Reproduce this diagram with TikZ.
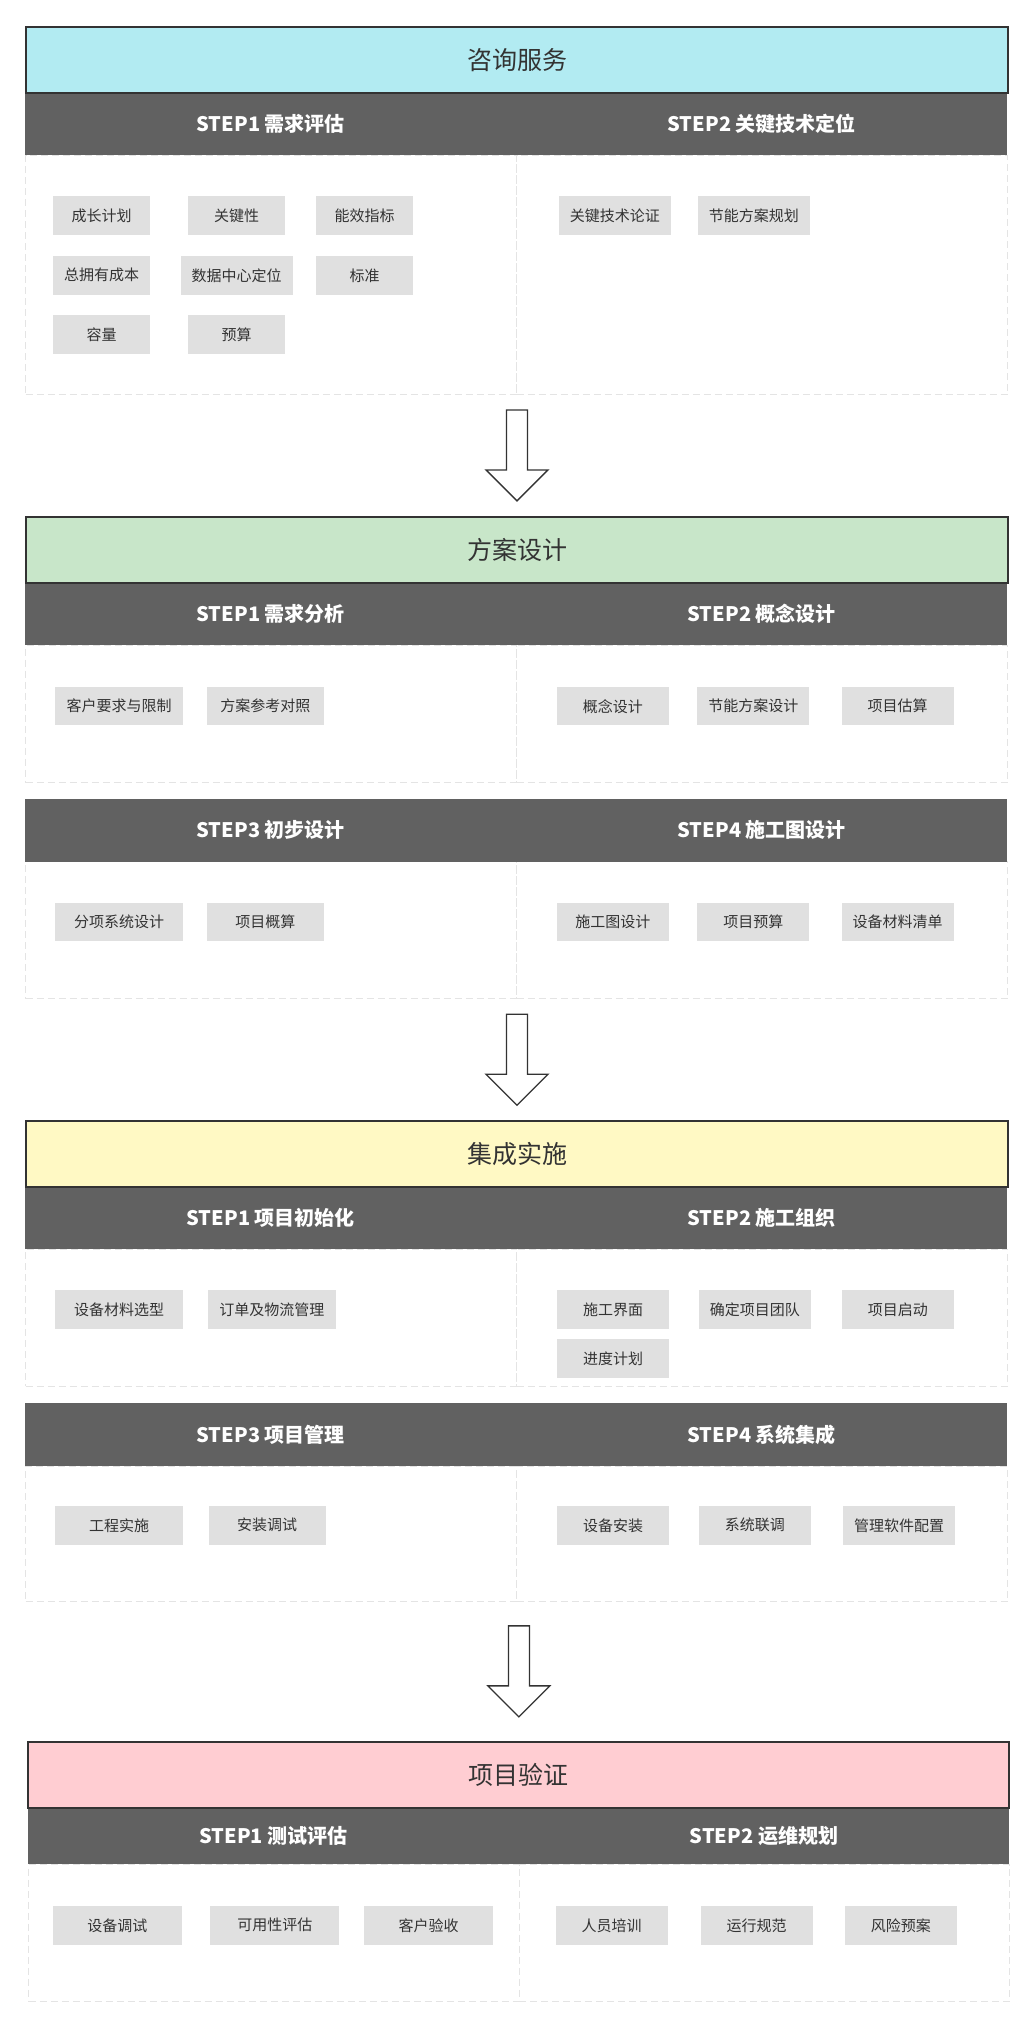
\documentclass[tikz,border=0pt]{standalone}
\usepackage{fontspec}
\setmainfont{Noto Sans CJK SC}
\usetikzlibrary{calc}
\definecolor{cyanbg}{HTML}{B2EBF2}
\definecolor{greenbg}{HTML}{C8E6C9}
\definecolor{yellowbg}{HTML}{FFF9C4}
\definecolor{redbg}{HTML}{FFCDD2}
\definecolor{headgray}{HTML}{616161}
\definecolor{chipgray}{HTML}{E0E0E0}
\definecolor{linegray}{HTML}{E4E4E4}
\definecolor{inkgray}{HTML}{333333}
\tikzset{
  stage/.style={draw=inkgray, line width=2pt, anchor=north west, minimum width=982pt,
    minimum height=66pt, inner sep=0pt, text=inkgray, font=\fontsize{25}{30}\selectfont},
  stephead/.style={fill=headgray, anchor=north west, minimum width=491pt, minimum height=63pt,
    inner sep=0pt, text=white, font=\bfseries\fontsize{20}{24}\selectfont},
  cell/.style={draw=linegray, dash pattern=on 7pt off 4pt, line width=1pt, anchor=north west,
    minimum width=491pt, minimum height=137pt, inner sep=0pt},
  chip/.style={fill=chipgray, minimum width=112pt, minimum height=38.5pt, inner sep=0pt,
    text=inkgray, font=\fontsize{15}{18}\selectfont},
  hollow/.style={draw=inkgray, line width=1.3pt, fill=white, line join=miter}
}
\begin{document}
\begin{tikzpicture}[x=1pt,y={(0,-1pt)}]
  \useasboundingbox (0,0) rectangle (1033,2026);
  % content cells
  \node[cell, minimum height=239.3pt] (c11) at (25,155) {};
  \node[cell, minimum height=239.3pt] (c12) at (516,155) {};
  \node[cell] (c21) at (25,645.2) {};
  \node[cell] (c22) at (516,645.2) {};
  \node[cell] (c23) at (25,861.3) {};
  \node[cell] (c24) at (516,861.3) {};
  \node[cell] (c31) at (25,1248.7) {};
  \node[cell] (c32) at (516,1248.7) {};
  \node[cell, minimum height=135.3pt] (c33) at (25,1465.7) {};
  \node[cell, minimum height=135.3pt] (c34) at (516,1465.7) {};
  \node[cell, minimum width=490.5pt] (c41) at (28,1864) {};
  \node[cell, minimum width=490.5pt] (c42) at (518.5,1864) {};
  % step headers
  \node[stephead, minimum height=63.5pt] (h11) at (25,91.5) {STEP1 需求评估};
  \node[stephead, minimum height=63.5pt] (h12) at (516,91.5) {STEP2 关键技术定位};
  \node[stephead, minimum height=63.7pt] (h21) at (25,581.5) {STEP1 需求分析};
  \node[stephead, minimum height=63.7pt] (h22) at (516,581.5) {STEP2 概念设计};
  \node[stephead, minimum height=62.6pt] (h23) at (25,798.7) {STEP3 初步设计};
  \node[stephead, minimum height=62.6pt] (h24) at (516,798.7) {STEP4 施工图设计};
  \node[stephead, minimum height=62.2pt] (h31) at (25,1186.5) {STEP1 项目初始化};
  \node[stephead, minimum height=62.2pt] (h32) at (516,1186.5) {STEP2 施工组织};
  \node[stephead, minimum height=62.7pt] (h33) at (25,1403) {STEP3 项目管理};
  \node[stephead, minimum height=62.7pt] (h34) at (516,1403) {STEP4 系统集成};
  \node[stephead, minimum width=490.5pt, minimum height=57.3pt] (h41) at (28,1806.7) {STEP1 测试评估};
  \node[stephead, minimum width=490.5pt, minimum height=57.3pt] (h42) at (518.5,1806.7) {STEP2 运维规划};
  % stage titles
  \node[stage, fill=cyanbg] (t1) at (25,25.7) {咨询服务};
  \node[stage, fill=greenbg] (t2) at (25,515.5) {方案设计};
  \node[stage, fill=yellowbg] (t3) at (25,1120.3) {集成实施};
  \node[stage, fill=redbg, minimum width=981pt] (t4) at (27.4,1740.7) {项目验证};
  % stage 1
  \foreach \x/\y/\w/\t [count=\i] in {101.5/215.5/97.5/成长计划, 236.5/215.5/97.5/关键性,
      364.5/215.5/97.5/能效指标, 101.5/275.3/97.5/总拥有成本, 236.6/275.3/112/数据中心定位,
      364.5/275.3/97.5/标准, 101.5/334.3/97.5/容量, 236.5/334.3/97.5/预算}
    \node[chip, minimum width=\w pt] (k11\i) at (\x,\y) {\t};
  \foreach \x/\t [count=\i] in {614.9/关键技术论证, 753.9/节能方案规划}
    \node[chip] (k12\i) at (\x,215.5) {\t};
  % stage 2
  \foreach \x/\w/\t [count=\i] in {119/128.5/客户要求与限制, 265.3/116.7/方案参考对照}
    \node[chip, minimum width=\w pt] (k21\i) at (\x,706.2) {\t};
  \foreach \x/\t [count=\i] in {612.9/概念设计, 753.3/节能方案设计, 897.6/项目估算}
    \node[chip] (k22\i) at (\x,706.2) {\t};
  \foreach \x/\w/\t [count=\i] in {119/128.5/分项系统设计, 265.3/116.7/项目概算}
    \node[chip, minimum width=\w pt] (k23\i) at (\x,922.2) {\t};
  \foreach \x/\t [count=\i] in {612.9/施工图设计, 753.3/项目预算, 897.6/设备材料清单}
    \node[chip] (k24\i) at (\x,922.2) {\t};
  % stage 3
  \foreach \x/\w/\t [count=\i] in {119/128.5/设备材料选型, 271.9/128.5/订单及物流管理}
    \node[chip, minimum width=\w pt] (k31\i) at (\x,1309.5) {\t};
  \foreach \x/\y/\t [count=\i] in {613.2/1309.5/施工界面, 754.9/1309.5/确定项目团队,
      897.9/1309.5/项目启动, 613.2/1358.7/进度计划}
    \node[chip] (k32\i) at (\x,\y) {\t};
  \foreach \x/\w/\t [count=\i] in {119/128.5/工程实施, 267.2/116.6/安装调试}
    \node[chip, minimum width=\w pt] (k33\i) at (\x,1525.3) {\t};
  \foreach \x/\t [count=\i] in {613.2/设备安装, 754.9/系统联调, 899.2/管理软件配置}
    \node[chip] (k34\i) at (\x,1525.3) {\t};
  % stage 4
  \foreach \x/\t [count=\i] in {117.3/设备调试, 274.8/可用性评估, 428.7/客户验收}
    \node[chip, minimum width=129pt] (k41\i) at (\x,1925.3) {\t};
  \foreach \x/\t [count=\i] in {611.6/人员培训, 756.5/运行规范, 900.9/风险预案}
    \node[chip] (k42\i) at (\x,1925.3) {\t};
  % block arrows between stages
  \foreach \a/\b in {c11/t2, c23/t3, c33/t4}
    \draw[hollow] let \p1=(\a.south east), \p2=(\b.north), \n1={(\y1+\y2)/2} in
      (\x2-10.5pt,\n1+45.5pt) -- (\x2+10.5pt,\n1+45.5pt) -- (\x2+10.5pt,\n1-14.5pt)
      -- (\x2+31pt,\n1-14.5pt) -- (\x2,\n1-45.5pt) -- (\x2-31pt,\n1-14.5pt)
      -- (\x2-10.5pt,\n1-14.5pt) -- cycle;
\end{tikzpicture}
\end{document}
